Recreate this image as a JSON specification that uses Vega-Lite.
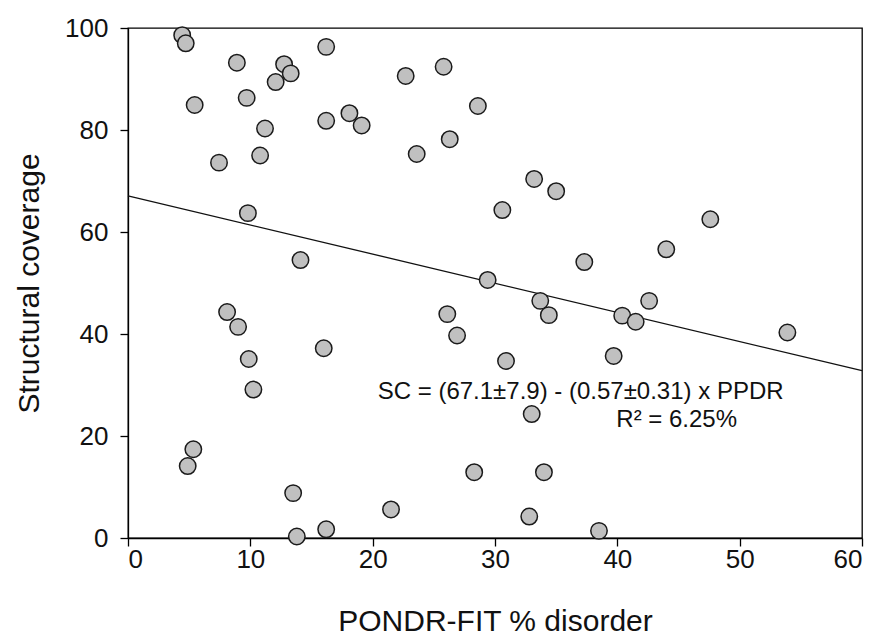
{
  "$schema": "https://vega.github.io/schema/vega-lite/v6.json",
  "autosize": "none",
  "width": 734,
  "height": 510,
  "padding": {"left": 128, "top": 28, "right": 16, "bottom": 103},
  "background": "white",
  "config": {
    "font": "Liberation Sans",
    "view": {"stroke": "black", "strokeWidth": 1.3},
    "axis": {
      "domainColor": "black", "domainWidth": 1.3, "tickColor": "black", "tickWidth": 1.3, "tickSize": 8,
      "labelColor": "#111", "labelFontSize": 26, "labelFont": "Liberation Sans",
      "titleColor": "#111", "titleFontSize": 30, "titleFont": "Liberation Sans", "titleFontWeight": "normal",
      "grid": false
    }
  },
  "datasets": {
    "pts": [
      {"x": 4.43, "y": 98.6}, {"x": 4.72, "y": 97.0}, {"x": 16.2, "y": 96.3}, {"x": 8.9, "y": 93.2},
      {"x": 12.76, "y": 92.9}, {"x": 13.3, "y": 91.1}, {"x": 12.07, "y": 89.4}, {"x": 9.7, "y": 86.3},
      {"x": 5.45, "y": 84.9}, {"x": 18.1, "y": 83.3}, {"x": 16.2, "y": 81.8}, {"x": 19.1, "y": 80.9},
      {"x": 11.2, "y": 80.3}, {"x": 10.8, "y": 75.0}, {"x": 7.44, "y": 73.6}, {"x": 9.8, "y": 63.7},
      {"x": 14.1, "y": 54.5},
      {"x": 8.1, "y": 44.3}, {"x": 9.0, "y": 41.4}, {"x": 16.0, "y": 37.2}, {"x": 9.87, "y": 35.1},
      {"x": 10.25, "y": 29.1}, {"x": 5.34, "y": 17.4}, {"x": 4.88, "y": 14.1}, {"x": 13.5, "y": 8.8},
      {"x": 16.2, "y": 1.7}, {"x": 13.8, "y": 0.3},
      {"x": 25.8, "y": 92.4}, {"x": 22.7, "y": 90.6}, {"x": 28.6, "y": 84.7}, {"x": 26.3, "y": 78.2},
      {"x": 23.6, "y": 75.3}, {"x": 33.2, "y": 70.4}, {"x": 35.0, "y": 68.0}, {"x": 30.6, "y": 64.3},
      {"x": 37.3, "y": 54.1}, {"x": 29.4, "y": 50.6},
      {"x": 33.7, "y": 46.5}, {"x": 34.4, "y": 43.7}, {"x": 26.1, "y": 43.9}, {"x": 26.9, "y": 39.7},
      {"x": 30.9, "y": 34.7}, {"x": 39.7, "y": 35.7}, {"x": 33.0, "y": 24.3}, {"x": 28.3, "y": 12.9},
      {"x": 34.0, "y": 12.9}, {"x": 21.5, "y": 5.6}, {"x": 32.8, "y": 4.2}, {"x": 38.5, "y": 1.4},
      {"x": 47.6, "y": 62.5}, {"x": 44.0, "y": 56.6}, {"x": 42.6, "y": 46.5}, {"x": 40.4, "y": 43.6},
      {"x": 41.5, "y": 42.4}, {"x": 53.9, "y": 40.3}
    ],
    "fit": [{"x": 0, "y": 67.1}, {"x": 60, "y": 32.8}],
    "notes": [
      {"x": 37.0, "y": 28.6, "t": "SC = (67.1±7.9) - (0.57±0.31) x PPDR"},
      {"x": 44.85, "y": 23.1, "t": "R² = 6.25%"}
    ]
  },
  "layer": [
    {
      "data": {"name": "fit"},
      "mark": {"type": "line", "color": "#111", "strokeWidth": 1.3},
      "encoding": {
        "x": {"field": "x", "type": "quantitative", "scale": {"domain": [0, 60], "nice": false},
              "axis": {"title": "PONDR-FIT % disorder", "values": [0, 10, 20, 30, 40, 50, 60], "labelPadding": 0, "titlePadding": 34}},
        "y": {"field": "y", "type": "quantitative", "scale": {"domain": [0, 100], "nice": false},
              "axis": {"title": "Structural coverage", "values": [0, 20, 40, 60, 80, 100], "labelPadding": 12, "titlePadding": 20}}
      }
    },
    {
      "data": {"name": "pts"},
      "mark": {"type": "point", "filled": true, "fill": "#c0c0c0", "stroke": "#1a1a1a", "strokeWidth": 1.5, "size": 270, "opacity": 1},
      "encoding": {
        "x": {"field": "x", "type": "quantitative"},
        "y": {"field": "y", "type": "quantitative"}
      }
    },
    {
      "data": {"name": "notes"},
      "mark": {"type": "text", "fontSize": 24, "color": "#111", "font": "Liberation Sans"},
      "encoding": {
        "x": {"field": "x", "type": "quantitative"},
        "y": {"field": "y", "type": "quantitative"},
        "text": {"field": "t"}
      }
    }
  ]
}
